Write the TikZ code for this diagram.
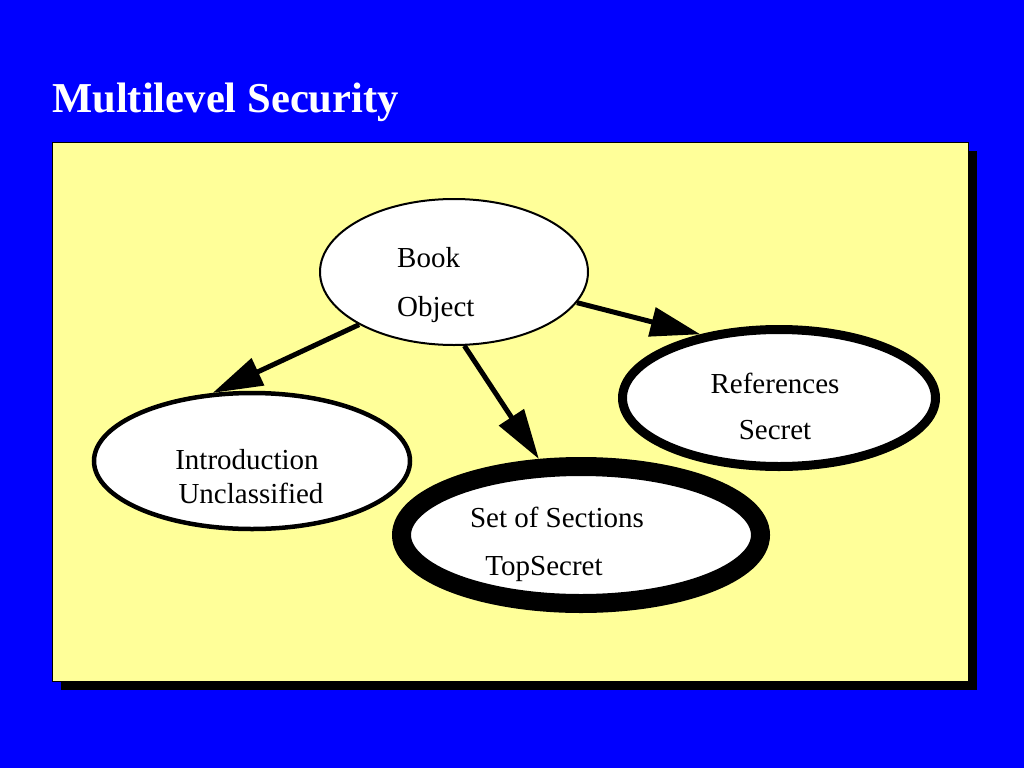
\documentclass[tikz,border=0pt]{standalone}
\usepackage{fontspec}
\setmainfont{Liberation Serif}
\usepackage{xcolor}
\usepackage{tikz}
\usetikzlibrary{shapes,arrows.meta,positioning}
\definecolor{slideblue}{RGB}{0,0,255}
\definecolor{slideyellow}{RGB}{255,255,153}
\tikzstyle{obj} = [draw, ellipse, fill=white, inner sep=0]
\tikzstyle{objtext} = [anchor=base, inner sep=0, font=\fontsize{29}{34}\selectfont]
\tikzstyle{flow} = [->, line width=5pt]

\begin{document}
\begin{tikzpicture}[x=1pt, y=-1pt, >={Triangle[length=50pt,width=29pt]}]
	  \fill [slideblue] (0,0) rectangle (1024,768);
	  \node [anchor=base west, inner sep=0, text=white, font=\fontsize{42.6}{50}\selectfont\bfseries] (title) at (52,112) {Multilevel Security};
	  \fill [black] (61,151) rectangle (977,690);
	  \draw [fill=slideyellow, line width=1pt] (52,142) rectangle (968,681);
	
	  \node [obj, line width=2pt, minimum width=268pt, minimum height=146pt] (book) at (454,272) {};
	  \node [obj, line width=4.5pt, minimum width=316pt, minimum height=136pt] (intro) at (252,461) {};
	  \node [obj, line width=9pt, minimum width=313pt, minimum height=137pt] (refs) at (779,398) {};
	  \node [obj, line width=19pt, minimum width=359pt, minimum height=137pt] (sections) at (581,535) {};
	
	  \node [objtext, anchor=base west] (bookname) at (397,267) {Book};
	  \node [objtext, anchor=base west] (booklevel) at (397,316) {Object};
	  \node [objtext] (introname) at (247,469) {Introduction};
	  \node [objtext] (introlevel) at (251,503) {Unclassified};
	  \node [objtext] (refsname) at (775,393) {References};
	  \node [objtext] (refslevel) at (775,439) {Secret};
	  \node [objtext] (sectionsname) at (557,527) {Set of Sections};
	  \node [objtext] (sectionslevel) at (544,575) {TopSecret};
	
	  \draw [flow] (book.209) -- (intro.120);
	  \draw [flow] (book.278) -- (sections.119);
	  \draw [flow] (book.346) -- (refs.141);
	\end{tikzpicture}
\end{document}
